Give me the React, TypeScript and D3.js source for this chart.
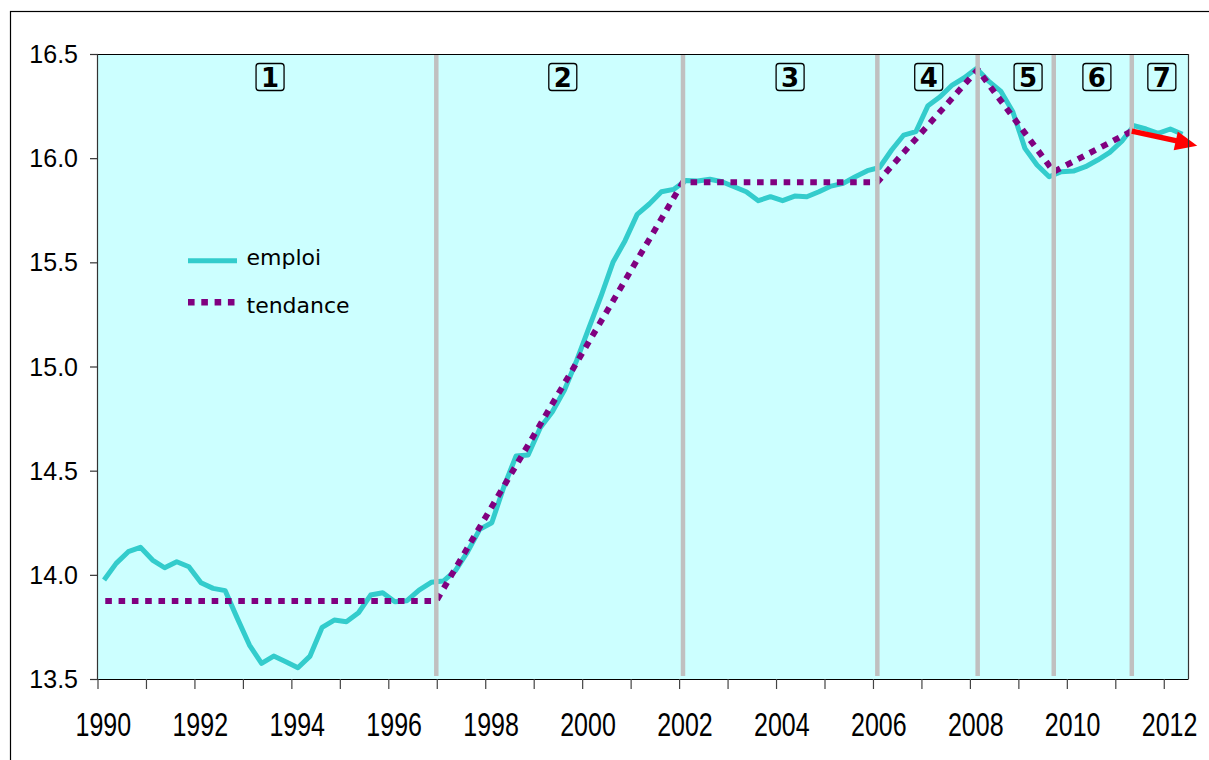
import React from "react";
import * as d3 from "d3";

// quarterly employment, 1990Q1 .. 2012Q2 (millions)
const emploi = [
  13.975, 14.055, 14.111, 14.132,
  14.071, 14.034, 14.063, 14.039,
  13.962, 13.935, 13.924, 13.791,
  13.663, 13.575, 13.61, 13.583,
  13.554, 13.61, 13.748, 13.783,
  13.775, 13.818, 13.903, 13.914,
  13.871, 13.876, 13.927, 13.964,
  13.97, 14.02, 14.11, 14.218,
  14.25, 14.423, 14.57, 14.575,
  14.706, 14.783, 14.887, 15.028,
  15.183, 15.335, 15.5, 15.604,
  15.73, 15.78, 15.839, 15.85,
  15.893, 15.89, 15.899, 15.887,
  15.863, 15.839, 15.796, 15.815,
  15.796, 15.818, 15.815, 15.839,
  15.866, 15.879, 15.911, 15.94,
  15.955, 16.039, 16.111, 16.127,
  16.252, 16.295, 16.351, 16.386,
  16.431, 16.37, 16.322, 16.223,
  16.047, 15.967, 15.911, 15.935,
  15.938, 15.959, 15.991, 16.028,
  16.082, 16.156, 16.14, 16.119,
  16.14, 16.115,
];
const firstYear = 1990;

const tendanceYears = [1990.15, 1996.98, 2002.07, 2006.08, 2008.15, 2009.72, 2011.33];
const tendanceValues = [13.875, 13.875, 15.885, 15.885, 16.425, 15.935, 16.13];

const phaseBreaks = [1996.98, 2002.07, 2006.08, 2008.15, 2009.72, 2011.33];
const phaseLabels = ["1", "2", "3", "4", "5", "6", "7"];
const phaseLabelYears = [1993.55, 1999.59, 2004.28, 2007.14, 2009.19, 2010.61, 2011.95];

const arrowYears = [2011.33, 2012.68];
const arrowValues = [16.13, 16.06];

const yTicks = [13.5, 14.0, 14.5, 15.0, 15.5, 16.0, 16.5];
const xTicks = d3.range(1990, 2013);
const xLabels = d3.range(1990, 2013, 2);

const W = 1209;
const H = 760;
const left = 98;
const right = 1188.5;
const top = 54;
const bottom = 679;

export default function App() {
  const x = d3.scaleLinear().domain([1990, 2012.5]).range([left, right]);
  const y = d3.scaleLinear().domain([13.5, 16.5]).range([bottom, top]);

  const emploiPts = emploi.map((v, i) => [firstYear + (i + 0.5) / 4, v] as [number, number]);
  const line = d3.line<[number, number]>().x((d) => x(d[0])).y((d) => y(d[1]));
  const tendPts = tendanceYears.map((t, i) => [t, tendanceValues[i]] as [number, number]);

  // arrow: shaft + head
  const ax0 = x(arrowYears[0]);
  const ay0 = y(arrowValues[0]);
  const ax1 = x(arrowYears[1]);
  const ay1 = y(arrowValues[1]);
  const ang = Math.atan2(ay1 - ay0, ax1 - ax0);
  const headLen = 22;
  const headHalf = 9.5;
  const bx = ax1 - headLen * Math.cos(ang);
  const by = ay1 - headLen * Math.sin(ang);
  const px = -Math.sin(ang);
  const py = Math.cos(ang);
  const head = `${ax1},${ay1} ${bx + px * headHalf},${by + py * headHalf} ${bx - px * headHalf},${by - py * headHalf}`;

  const fmt = d3.format(".1f");

  return (
    <svg width={W} height={H} style={{ position: "absolute", left: 0, top: 0, background: "#fff" }}>
      <rect x={10.5} y={11.5} width={W + 20} height={H + 20} fill="none" stroke="#000" strokeWidth={1.2} />

      <rect x={left} y={top} width={right - left} height={bottom - top} fill="#CCFFFF" />

      {/* series */}
      <path d={line(emploiPts) || ""} fill="none" stroke="#33CCCC" strokeWidth={5} strokeLinejoin="round" />
      <path d={line(tendPts) || ""} fill="none" stroke="#800080" strokeWidth={6} strokeDasharray="6.6 6.7" />

      {/* phase separators */}
      {phaseBreaks.map((b) => (
        <line key={b} x1={x(b)} x2={x(b)} y1={top} y2={676} stroke="#C0C0C0" strokeWidth={4.5} />
      ))}

      <line x1={ax0} y1={ay0} x2={bx + 1} y2={by} stroke="#FF0000" strokeWidth={5.5} />
      <polygon points={head} fill="#FF0000" />

      {/* plot frame */}
      <line x1={left} x2={right} y1={top + 0.5} y2={top + 0.5} stroke="#000" strokeWidth={1.2} />
      <line x1={right} x2={right} y1={top} y2={bottom} stroke="#333" strokeWidth={1.2} />
      <line x1={left - 0.5} x2={left - 0.5} y1={top} y2={bottom} stroke="#333" strokeWidth={1.2} />
      <line x1={left} x2={right} y1={bottom + 0.5} y2={bottom + 0.5} stroke="#000" strokeWidth={1.2} />

      {/* phase numbers */}
      {phaseLabels.map((lab, i) => {
        const cx = x(phaseLabelYears[i]);
        return (
          <g key={lab} transform={`translate(${cx},77)`}>
            <rect x={-14} y={-13.5} width={28} height={27} rx={3} fill="none" stroke="#000" strokeWidth={1.3} />
            <text
              textAnchor="middle"
              dy="0.37em"
              fontFamily="DejaVu Sans, Verdana, sans-serif"
              fontWeight="bold"
              fontSize={26}
              fill="#000"
            >
              {lab}
            </text>
          </g>
        );
      })}

      {/* y axis */}
      {yTicks.map((t) => (
        <g key={t}>
          <line x1={90} x2={left} y1={y(t) + 0.5} y2={y(t) + 0.5} stroke="#333" strokeWidth={1.2} />
          <text
            x={78}
            y={y(t)}
            dy="0.36em"
            textAnchor="end"
            fontFamily="Liberation Sans, Arial, sans-serif"
            fontSize={25}
            fill="#000"
          >
            {fmt(t)}
          </text>
        </g>
      ))}

      {/* x axis */}
      {xTicks.map((t) => (
        <line key={t} x1={x(t)} x2={x(t)} y1={bottom} y2={689} stroke="#444" strokeWidth={1.2} />
      ))}
      {xLabels.map((t) => (
        <text
          key={t}
          transform={`translate(${x(t + 0.11)},736) scale(1,1.3)`}
          textAnchor="middle"
          fontFamily="Liberation Sans, Arial, sans-serif"
          fontSize={25}
          fill="#000"
        >
          {t}
        </text>
      ))}

      {/* legend */}
      <line x1={188} x2={237} y1={260.7} y2={260.7} stroke="#33CCCC" strokeWidth={5} />
      <text x={246.5} y={265} fontFamily="DejaVu Sans, Verdana, sans-serif" fontSize={22} fill="#000">
        emploi
      </text>
      <line x1={188} x2={237} y1={302.3} y2={302.3} stroke="#800080" strokeWidth={6.5} strokeDasharray="6.6 6.7" />
      <text x={246.5} y={312.7} fontFamily="DejaVu Sans, Verdana, sans-serif" fontSize={22} fill="#000">
        tendance
      </text>
    </svg>
  );
}
